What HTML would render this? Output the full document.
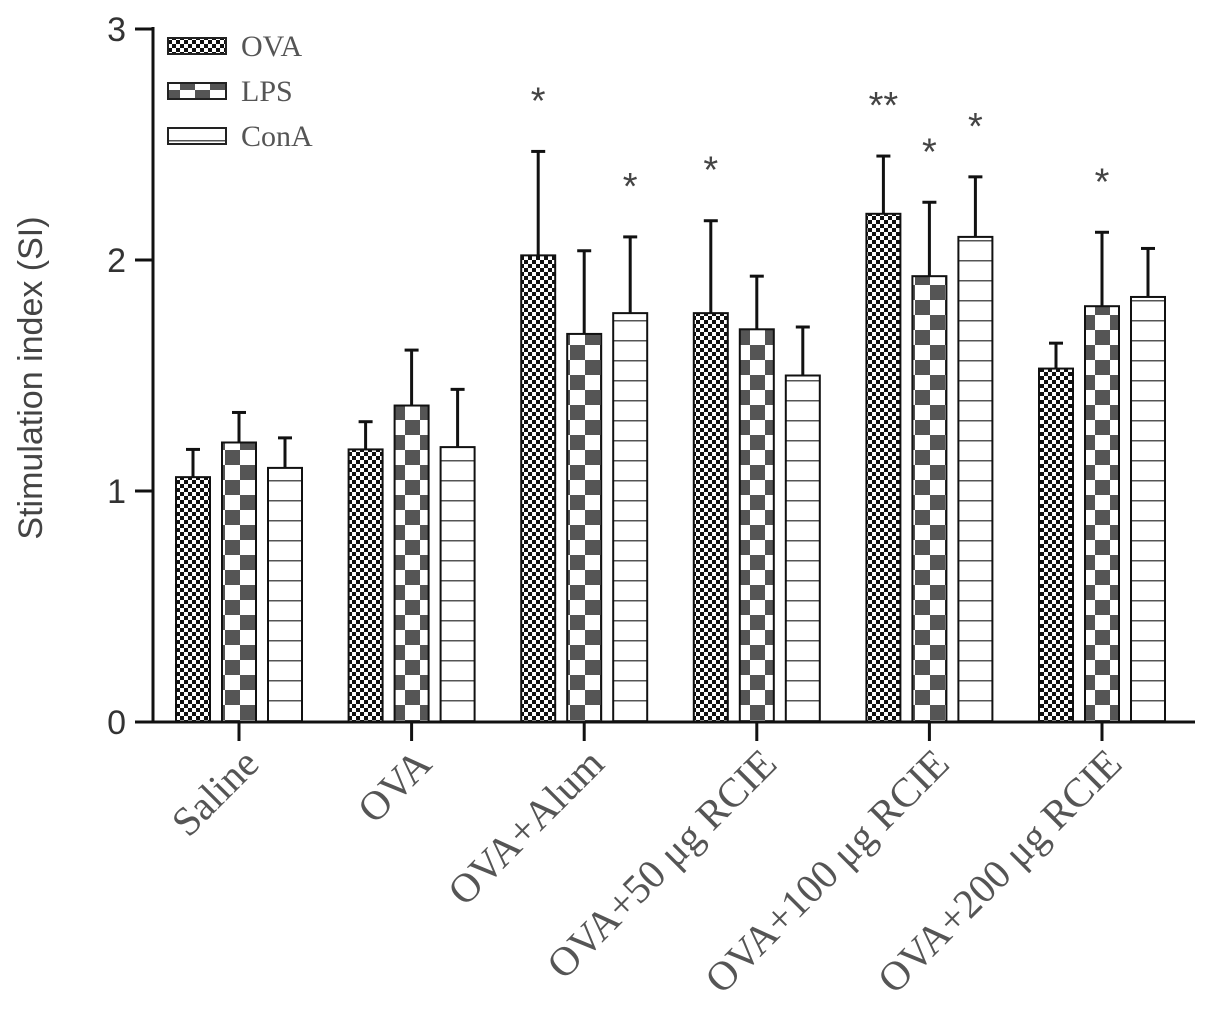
<!DOCTYPE html>
<html><head><meta charset="utf-8"><style>
body{margin:0;background:#fff;}
svg{display:block;}
</style></head><body>
<svg id="chart" width="1205" height="1012" viewBox="0 0 1205 1012" xmlns="http://www.w3.org/2000/svg">
<defs>
<pattern id="pOVA" width="8" height="8" patternUnits="userSpaceOnUse">
<rect width="8" height="8" fill="#fff"/><rect x="0" y="0" width="4" height="4" fill="#111"/><rect x="4" y="4" width="4" height="4" fill="#111"/>
</pattern>
<pattern id="pLPS" width="30" height="30" patternUnits="userSpaceOnUse">
<rect width="30" height="30" fill="#fff"/><rect x="15" y="0" width="15" height="15" fill="#555"/><rect x="0" y="15" width="15" height="15" fill="#555"/>
</pattern>
<pattern id="pCon" width="10" height="20" patternUnits="userSpaceOnUse">
<rect width="10" height="20" fill="#fff"/><rect x="0" y="0" width="10" height="1.5" fill="#555"/>
</pattern>
</defs>
<g id="plot"></g>
</svg>
<script>
const categories=["Saline","OVA","OVA+Alum","OVA+50 μg RCIE","OVA+100 μg RCIE","OVA+200 μg RCIE"];
const seriesNames=["OVA","LPS","ConA"];
const ovaVals=[1.06,1.18,2.02,1.77,2.20,1.53];
const ovaErr=[0.12,0.12,0.45,0.40,0.25,0.11];
const lpsVals=[1.21,1.37,1.68,1.70,1.93,1.80];
const lpsErr=[0.13,0.24,0.36,0.23,0.32,0.32];
const conVals=[1.10,1.19,1.77,1.50,2.10,1.84];
const conErr=[0.13,0.25,0.33,0.21,0.26,0.21];
const ovaStars=["","","*","*","**",""];
const lpsStars=["","","","","*","*"];
const conStars=["","","*","","*",""];
const yTicks=[0,1,2,3];

const NS="http://www.w3.org/2000/svg";
const g=document.getElementById('plot');
const y0=722,yTop=29,yMax=3;
const yS=v=>y0-(v/yMax)*(y0-yTop);
const c0=239,step=172.6;
const xC=i=>c0+i*step;
function el(t,a,p){const e=document.createElementNS(NS,t);for(const k in a)e.setAttribute(k,a[k]);(p||g).appendChild(e);return e;}

let ax=el('line',{x1:153,y1:yTop-2,x2:153,y2:y0,stroke:'#111','stroke-width':3});


yTicks.forEach(v=>{
  const t=el('line',{x1:135,x2:153,y1:yS(v),y2:yS(v),stroke:'#111','stroke-width':3});
  
  
  const l=el('text',{x:126,y:yS(v)+12,'text-anchor':'end','font-family':'Liberation Sans, sans-serif','font-size':34,fill:'#333'});
  l.textContent=v;
  
  
});
let yt=el('text',{transform:'translate(42,378) rotate(-90)','text-anchor':'middle','font-family':'Liberation Sans, sans-serif','font-size':34,fill:'#444'});
yt.textContent='Stimulation index (SI)';



const series=[[ovaVals,ovaErr,ovaStars,'url(#pOVA)',-46],[lpsVals,lpsErr,lpsStars,'url(#pLPS)',0],[conVals,conErr,conStars,'url(#pCon)',46]];
const bw=34;
categories.forEach((c,i)=>{
  series.forEach((s,j)=>{
    const cx=xC(i)+s[4];const v=s[0][i],e=s[1][i];
    const top=v+e;
    const eb=el('line',{x1:cx,x2:cx,y1:yS(top),y2:yS(v),stroke:'#111','stroke-width':3});
    
    
    const cap=el('line',{x1:cx-7,x2:cx+7,y1:yS(top),y2:yS(top),stroke:'#111','stroke-width':3});
    
    
    const r=el('rect',{x:cx-bw/2,y:yS(v),width:bw,height:y0-yS(v),fill:s[3],stroke:'#111','stroke-width':2});
    
    
    if(s[2][i]){
      const st=el('text',{x:cx,y:yS(top)-38,'text-anchor':'middle','font-family':'Liberation Sans, sans-serif','font-size':38,fill:'#444'});
      st.textContent=s[2][i];
      
      
    }
  });
  const tk=el('line',{x1:xC(i),x2:xC(i),y1:y0,y2:741,stroke:'#111','stroke-width':3});
  
  
  const lb=el('text',{transform:`translate(${xC(i)+22},${y0+44}) rotate(-45)`,'text-anchor':'end','font-family':'Liberation Serif, serif','font-size':41,fill:'#555'});
  lb.textContent=c;
  
  
});
let xa=el('line',{x1:135,x2:1195,y1:y0,y2:y0,stroke:'#111','stroke-width':3});



const fills=['url(#pOVA)','url(#pLPS)','url(#pCon)'];
seriesNames.forEach((n,k)=>{
  const ly=38+k*45;
  const r=el('rect',{x:168,y:ly,width:58,height:16,fill:fills[k],stroke:'#222','stroke-width':2});
  
  
  const t=el('text',{x:241,y:ly+18,'font-family':'Liberation Serif, serif','font-size':30,fill:'#555'});
  t.textContent=n;
  
  
});
</script>
</body></html>
